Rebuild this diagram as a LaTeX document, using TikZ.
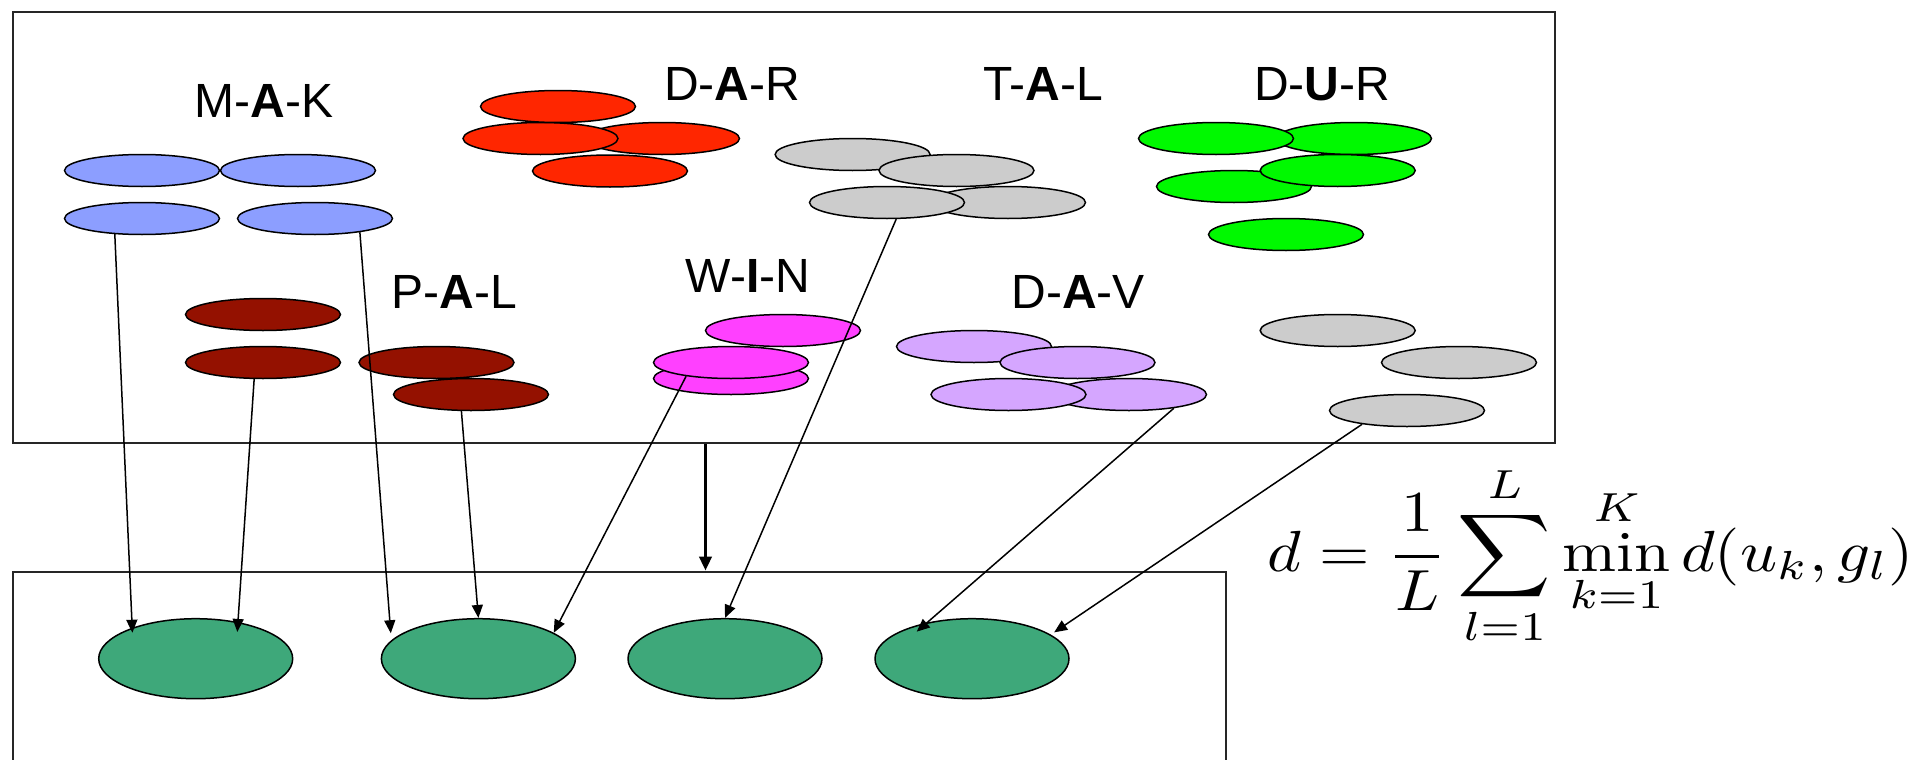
\documentclass[tikz,border=0pt]{standalone}
\usepackage{amsmath}
\usepackage{fontspec}
\newfontfamily\labfont{Liberation Sans}
\usetikzlibrary{shapes.geometric,arrows.meta}

\definecolor{cblue}{RGB}{140,158,255}
\definecolor{cred}{RGB}{255,38,0}
\definecolor{cdark}{RGB}{148,17,0}
\definecolor{cpink}{RGB}{255,64,255}
\definecolor{clav}{RGB}{213,166,255}
\definecolor{cgreen}{RGB}{0,249,0}
\definecolor{cgray}{RGB}{204,204,204}
\definecolor{cteal}{RGB}{62,168,122}

\tikzset{
  ell/.style={ellipse, draw=black, line width=0.75pt, minimum width=77.5pt,
    minimum height=16pt, inner sep=0pt},
  blob/.style={ellipse, draw=black, line width=0.75pt, fill=cteal,
    minimum width=97pt, minimum height=40pt, inner sep=0pt},
  frame/.style={draw=black!85, line width=1pt, inner sep=0pt, anchor=north west},
  lab/.style={anchor=base, inner sep=0pt, font=\labfont\fontsize{24}{28}\selectfont},
  link/.style={line width=0.75pt, -{Triangle[length=6.5pt,width=5.5pt]}},
  bigl/.style={line width=1.8pt, -{Triangle[length=7pt,width=6pt]}}
}

\begin{document}
\begin{tikzpicture}[x=0.5pt,y=-0.5pt]
\useasboundingbox (0,0) rectangle (1918,760);

% frames
\node[frame, minimum width=770.75pt, minimum height=215.65pt] (top) at (12,10.7) {};
\node[frame, minimum width=606.65pt, minimum height=150pt] (bot) at (12,570.7) {};

% labels
\node[lab] (tmak) at (264,117) {M-\textbf{A}-K};
\node[lab] (tdar) at (732,100) {D-\textbf{A}-R};
\node[lab] (ttal) at (1043,100) {T-\textbf{A}-L};
\node[lab] (tdur) at (1322,100) {D-\textbf{U}-R};
\node[lab] (tpal) at (454.5,308) {P-\textbf{A}-L};
\node[lab] (twin) at (748,292) {W-\textbf{I}-N};
\node[lab] (tdav) at (1078,308) {D-\textbf{A}-V};

% M-A-K
\node[ell, fill=cblue] (b1) at (142,170.5) {};
\node[ell, fill=cblue] (b2) at (298,170.5) {};
\node[ell, fill=cblue] (b3) at (142,218.5) {};
\node[ell, fill=cblue] (b4) at (315,218.5) {};

% D-A-R
\node[ell, fill=cred] (r3) at (662,138.5) {};
\node[ell, fill=cred] (r2) at (540.5,138.5) {};
\node[ell, fill=cred] (r1) at (558,106.5) {};
\node[ell, fill=cred] (r4) at (610,171) {};

% T-A-L
\node[ell, fill=cgray] (g1) at (852.6,154.5) {};
\node[ell, fill=cgray] (g2) at (956.5,170.5) {};
\node[ell, fill=cgray] (g3) at (1008,202.5) {};
\node[ell, fill=cgray] (g4) at (887,202.5) {};

% D-U-R
\node[ell, fill=cgreen] (e2) at (1354,138.5) {};
\node[ell, fill=cgreen] (e1) at (1216,138.5) {};
\node[ell, fill=cgreen] (e3) at (1234,186.5) {};
\node[ell, fill=cgreen] (e4) at (1337.7,170.5) {};
\node[ell, fill=cgreen] (e5) at (1286,234.5) {};

% P-A-L
\node[ell, fill=cdark] (p1) at (263,314.5) {};
\node[ell, fill=cdark] (p2) at (263,362.5) {};
\node[ell, fill=cdark] (p3) at (436.5,362.5) {};
\node[ell, fill=cdark] (p4) at (471,394.5) {};

% W-I-N
\node[ell, fill=cpink] (k1) at (783,330.5) {};
\node[ell, fill=cpink] (k2) at (731,378.5) {};
\node[ell, fill=cpink] (k3) at (731,362.5) {};

% D-A-V
\node[ell, fill=clav] (v1) at (974,346.5) {};
\node[ell, fill=clav] (v2) at (1077.5,362.5) {};
\node[ell, fill=clav] (v3) at (1129,394.5) {};
\node[ell, fill=clav] (v4) at (1008.5,394.5) {};

% unlabelled group
\node[ell, fill=cgray] (h1) at (1337.7,330.5) {};
\node[ell, fill=cgray] (h2) at (1459,362.5) {};
\node[ell, fill=cgray] (h3) at (1407,410.5) {};

% cluster centres
\node[blob] (c1) at (195.7,658.7) {};
\node[blob] (c2) at (478.4,658.7) {};
\node[blob] (c3) at (725,658.7) {};
\node[blob] (c4) at (972,658.7) {};

% assignments
\draw[link, shorten >=-2.5pt] (b3.210) -- (c1.154);
\draw[link, shorten >=-5pt] (p2.-118) -- (c1.41);
\draw[link, shorten >=3.5pt] (b4.-17) -- (c2.168);
\draw[link] (p4.-120) -- (c2.north);
\draw[link] (k3.197) -- (c2.19);
\draw[link] (g4.-61) -- (c3.north);
\draw[link, shorten >=-7pt] (v3.-17) -- (c4.141);
\draw[link, shorten >=2pt] (h3.197) -- (c4.17);

% projection arrow between the frames
\coordinate (dropx) at (705.5,0);
\draw[bigl] (top.south -| dropx) -- (bot.north -| dropx);

% distance formula
\node[anchor=base west, inner sep=0pt] (formula) at (1267,571)
  {\scalebox{3.24}[2.9]{$\displaystyle d=\frac{1}{L}\sum_{l=1}^{L}\min_{k=1}^{K} d(u_k,g_l)$}};
\end{tikzpicture}
\end{document}
